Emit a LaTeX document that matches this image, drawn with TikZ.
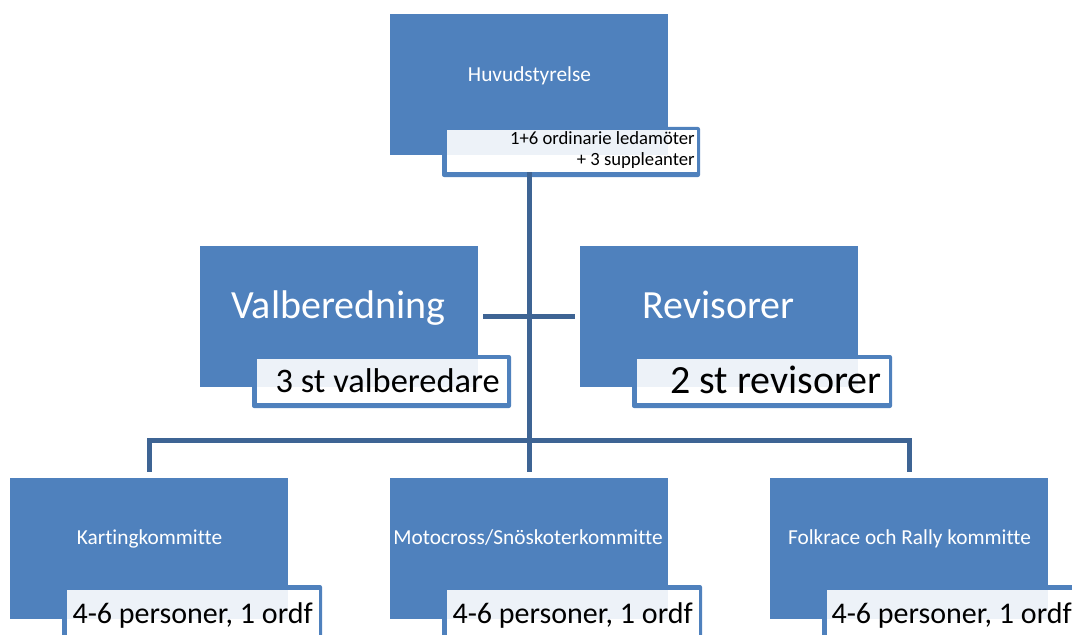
\documentclass[tikz,border=0pt]{standalone}
\usepackage{fontspec}
\setmainfont{Carlito}[Ligatures={NoCommon}]
\definecolor{boxblue}{HTML}{4F81BD}
\definecolor{connblue}{RGB}{62,100,148}
\tikzset{
  mainbox/.style={fill=boxblue, minimum width=208.5pt, minimum height=105.75pt, inner sep=0pt, outer sep=0pt},
  whitebox/.style={fill=white, inner sep=0pt, outer sep=0pt, anchor=north west},
  frame/.style={fill=boxblue, rounded corners=1.5pt},
  tint/.style={fill=boxblue, fill opacity=0.1},
  lbl/.style={text=white, font=\fontsize{16}{17}\selectfont, inner sep=0pt, anchor=base},
  sublbl/.style={text=black, inner sep=0pt, anchor=base east},
  conn/.style={draw=connblue, line width=3.75pt}
}
\begin{document}
\begin{tikzpicture}[x=0.75pt,y=-0.75pt]
\useasboundingbox (0,0) rectangle (1072,635);
\clip (0,0) rectangle (1072,635);
% main boxes
\node[mainbox] (huv) at (529,85) {};
\node[mainbox] (val) at (339,316.5) {};
\node[mainbox] (rev) at (719,316.5) {};
\node[mainbox] (kart) at (149,548) {};
\node[mainbox] (moto) at (529,548) {};
\node[mainbox] (folk) at (909,548) {};
% labels
\node[lbl] (huvt) at (529.5,82) {Huvudstyrelse};
\node[lbl, font=\fontsize{30}{31}\selectfont] (valt) at (338.5,318) {Valberedning};
\node[lbl, font=\fontsize{30}{31}\selectfont] (revt) at (718.5,318) {Revisorer};
\node[lbl] (kartt) at (149.5,544) {Kartingkommitte};
\node[lbl] (motot) at (528,544) {Motocross/Snöskoterkommitte};
\node[lbl] (folkt) at (909.5,544) {Folkrace och Rally kommitte};
% sub boxes
\fill[frame] (442,127) rectangle (700,177);
\node[whitebox, minimum width=187.5pt, minimum height=31.5pt] (huvsub) at (447,130) {};
\fill[tint] (huvsub.north west) rectangle (huv.south east);
\fill[frame] (252,355) rectangle (511,408);
\node[whitebox, minimum width=187.5pt, minimum height=33pt] (valsub) at (257,359) {};
\fill[tint] (valsub.north west) rectangle (val.south east);
\fill[frame] (632,355) rectangle (892,408);
\node[whitebox, minimum width=189pt, minimum height=33pt] (revsub) at (637,359) {};
\fill[tint] (revsub.north west) rectangle (rev.south east);
\fill[frame] (62,585) rectangle (322,660);
\node[whitebox, minimum width=189pt, minimum height=45pt] (kartsub) at (67,590) {};
\fill[tint] (kartsub.north west) rectangle (kart.south east);
\fill[frame] (442,585) rectangle (702,660);
\node[whitebox, minimum width=189pt, minimum height=45pt] (motosub) at (447,590) {};
\fill[tint] (motosub.north west) rectangle (moto.south east);
\fill[frame] (822,585) rectangle (1082,660);
\node[whitebox, minimum width=189pt, minimum height=45pt] (folksub) at (827,590) {};
\fill[tint] (folksub.north west) rectangle (folk.south east);
% sub labels
\node[sublbl, font=\fontsize{14}{15}\selectfont] (huvs1) at (695,145) {1+6 ordinarie ledamöter};
\node[sublbl, font=\fontsize{14}{15}\selectfont] (huvs2) at (695,166) {+ 3 suppleanter};
\node[sublbl, font=\fontsize{25.8}{27}\selectfont] (vals) at (500,392) {3 st valberedare};
\node[sublbl, font=\fontsize{30}{31}\selectfont] (revs) at (882,393) {2 st revisorer};
\node[sublbl, font=\fontsize{22.5}{24}\selectfont] (karts) at (313,623) {4-6 personer, 1 ordf};
\node[sublbl, font=\fontsize{22.5}{24}\selectfont] (motos) at (693,623) {4-6 personer, 1 ordf};
\node[sublbl, font=\fontsize{22.5}{24}\selectfont] (folks) at (1072,623) {4-6 personer, 1 ordf};
% connectors
\coordinate (bar) at (529,440);
\draw[conn] (huv.south |- huvsub.south) -- ([yshift=4.5pt]moto.north);
\draw[conn, shorten <=3.75pt, shorten >=3.75pt] (val.east) -- (rev.west);
\draw[conn] ([yshift=4.5pt]kart.north) |- (bar) -| ([yshift=4.5pt]folk.north);
\end{tikzpicture}
\end{document}
